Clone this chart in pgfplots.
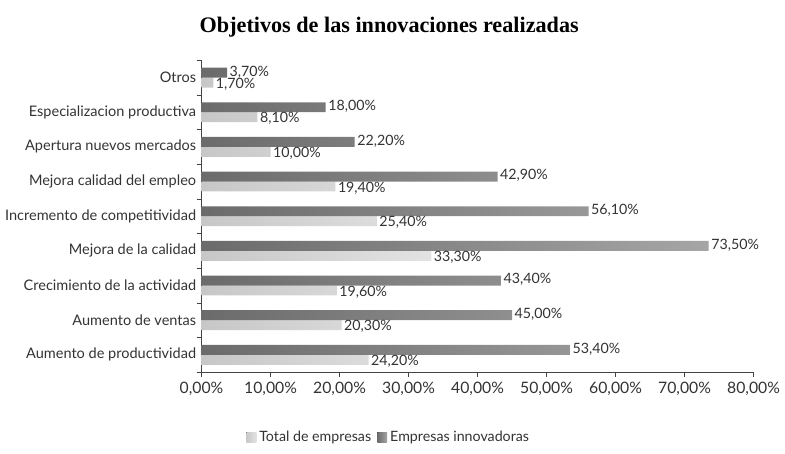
\documentclass[border=0pt]{standalone}
\usepackage{fontspec}
\setmainfont{Lato}
\newfontfamily\titlefont{Liberation Serif}
\usepackage{pgfplots}
\pgfplotsset{compat=1.18}

\definecolor{txt}{HTML}{333333}
\definecolor{axl}{HTML}{444444}

\begin{document}
\begin{tikzpicture}
\begin{axis}[
    scale only axis,
    width=361pt,
    height=204pt,
    xbar,
    bar width=6.5pt,
    xmin=0, xmax=80,
    ymin=-0.5, ymax=8.5,
    axis lines*=left,
    axis line style={axl},
    xtick={0,10,...,80},
    xticklabel={\pgfmathprintnumber[fixed,fixed zerofill,precision=2,use comma]{\tick}\%},
    /pgf/number format/assume math mode=true,
    ytick={0,...,8},
    yticklabels={Aumento de productividad, Aumento de ventas, Crecimiento de la actividad,
        Mejora de la calidad, Incremento de competitividad, Mejora calidad del empleo,
        Apertura nuevos mercados, Especializacion productiva, Otros},
    minor ytick={-0.5,0.5,...,8.5},
    major tick length=0pt,
    minor tick length=3.2pt,
    tick align=outside,
    tick style={axl},
    extra x ticks={0,10,...,80},
    extra x tick labels={},
    extra x tick style={major tick length=3.2pt, tick style={axl}},
    x tick label style={font=\fontsize{10.3}{12}\selectfont, text=txt, yshift=-3pt},
    y tick label style={font=\fontsize{9.5}{12}\selectfont, text=txt},
    nodes near coords={\pgfmathprintnumber[fixed,fixed zerofill,precision=2,use comma]{\pgfplotspointmeta}\%},
    nodes near coords style={font=\fontsize{9.3}{11}\selectfont, text=txt, inner sep=1.5pt},
    title={\titlefont\bfseries Objetivos de las innovaciones realizadas},
    title style={font=\fontsize{14.5}{16}\selectfont, at={(0.34,1)}, anchor=base, yshift=12pt},
    legend style={at={(0.34,-0.21)}, anchor=center, draw=none, legend columns=2,
        font=\fontsize{9.3}{11}\selectfont, text=txt, inner sep=1pt,
        /tikz/every even column/.append style={column sep=2pt}},
    legend image code/.code={\fill[#1] (0pt,-3pt) rectangle (6.5pt,3.5pt);},
]
\addplot[draw=none, left color=black!22, right color=black!11, bar shift=-3.25pt,
    nodes near coords style={anchor=west, yshift=-1pt}] coordinates {
    (24.2,0) (20.3,1) (19.6,2) (33.3,3) (25.4,4) (19.4,5) (10.0,6) (8.1,7) (1.7,8)
};
\addlegendentry{Total de empresas}
\addplot[draw=none, left color=black!58, right color=black!35, bar shift=3.25pt,
    nodes near coords style={anchor=west, yshift=0.5pt}] coordinates {
    (53.4,0) (45.0,1) (43.4,2) (73.5,3) (56.1,4) (42.9,5) (22.2,6) (18.0,7) (3.7,8)
};
\addlegendentry{Empresas innovadoras}
\end{axis}
\path (current bounding box.north) ++(0,8pt);
\path (current bounding box.south) ++(0,-3pt);
\end{tikzpicture}
\end{document}
